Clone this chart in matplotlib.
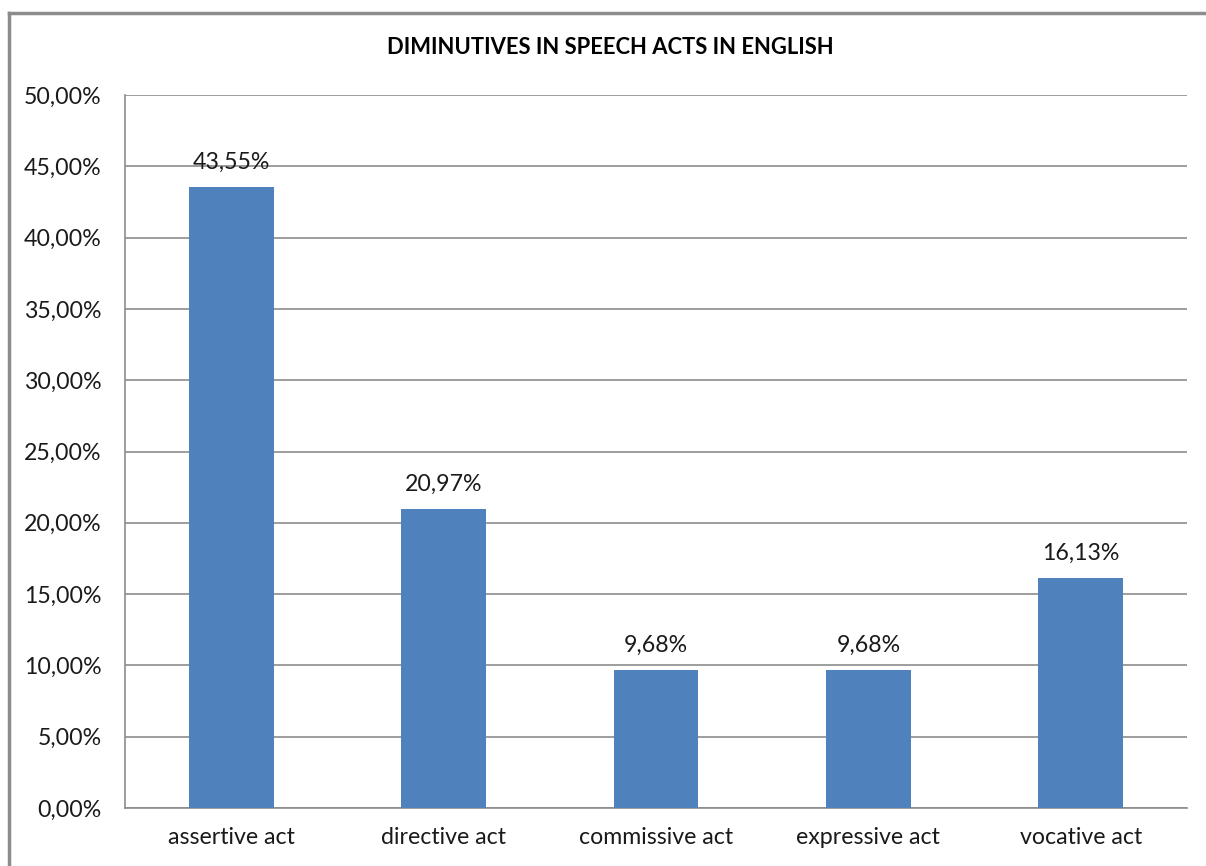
import numpy as np
import matplotlib.pyplot as plt
from matplotlib.lines import Line2D
from matplotlib.ticker import FuncFormatter

categories = ["assertive act", "directive act", "commissive act", "expressive act", "vocative act"]
values = [43.55, 20.97, 9.68, 9.68, 16.13]
labels = ["43,55%", "20,97%", "9,68%", "9,68%", "16,13%"]

plt.rcParams['font.family'] = ['Lato', 'DejaVu Sans']

W, H = 1206, 866
fig = plt.figure(figsize=(W / 100, H / 100), dpi=100)
ax = fig.add_axes([125 / W, 1 - 808 / H, (1187 - 125) / W, (808 - 95) / H])

x = np.arange(len(categories))
ax.bar(x, values, width=0.4, color='#4F81BD', zorder=3)
for xi, v, lab in zip(x, values, labels):
    ax.text(xi, v + 1.0, lab, ha='center', va='bottom', fontsize=16.7, color='#1a1a1a')

ax.set_xlim(-0.5, len(categories) - 0.5)
ax.set_ylim(0, 50)
ax.set_yticks(np.arange(0, 51, 5))
ax.yaxis.set_major_formatter(FuncFormatter(lambda v, p: f"{v:.2f}".replace('.', ',') + "%"))
ax.set_xticks(x)
ax.set_xticklabels(categories)
ax.tick_params(axis='both', length=0, labelsize=16.7, colors='#1a1a1a')
ax.tick_params(axis='y', pad=17)
ax.tick_params(axis='x', pad=14)
ax.grid(axis='y', color='#8c8c8c', linewidth=1.2, zorder=0)
for s in ['top', 'right']:
    ax.spines[s].set_visible(False)
for s in ['left', 'bottom']:
    ax.spines[s].set_color('#8c8c8c')
    ax.spines[s].set_linewidth(1.2)

fig.text(610 / W, 1 - 48 / H, "DIMINUTIVES IN SPEECH ACTS IN ENGLISH",
         ha='center', va='center', fontsize=15.8, fontweight='bold', color='#000000')

# chart frame (cropped at right and bottom)
fx, fy = 8.5 / W, 1 - 12.5 / H
fig.add_artist(Line2D([fx, fx], [0, fy], transform=fig.transFigure, color='#8c8c8c', linewidth=2.5))
fig.add_artist(Line2D([fx, 1], [fy, fy], transform=fig.transFigure, color='#8c8c8c', linewidth=2.5))

fig.savefig('out.png', dpi=100)
